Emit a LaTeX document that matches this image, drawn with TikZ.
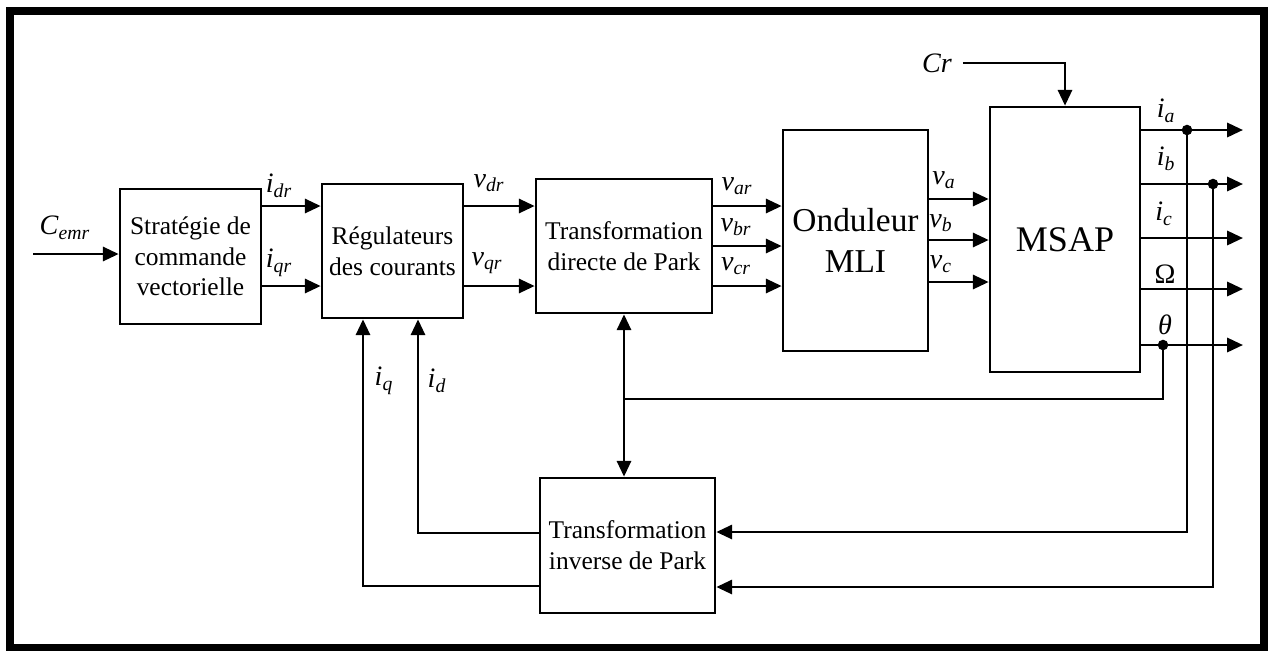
\documentclass[tikz,border=0pt]{standalone}
\usepackage{fontspec}
\setmainfont{Liberation Serif}
\usetikzlibrary{arrows.meta}

\newcommand{\sig}[2]{\textit{#1}\textsubscript{\textit{#2}}}

\begin{document}
\begin{tikzpicture}[x=0.02cm, y=-0.02cm,
    bloc/.style={draw, line width=1.5pt, inner sep=0pt, align=center, font=\fontsize{14.5}{17.5}\selectfont},
    lbl/.style={font=\fontsize{16}{16}\selectfont, inner sep=1pt},
    lien/.style={line width=1.6pt},
    fl/.style={lien, -{Triangle[length=9pt, width=8pt]}}]

            \useasboundingbox (0,0) rectangle (1273,650);
            \draw[line width=4.5pt] (10,11) rectangle (1264,648);

            % blocs
            \node[bloc, minimum width=2.82cm, minimum height=2.7cm] (strat) at (190.5,256.5) {Stratégie de\\commande\\vectorielle};
            \node[bloc, minimum width=2.82cm, minimum height=2.68cm] (regul) at (392.5,251) {Régulateurs\\des courants};
            \node[bloc, minimum width=3.52cm, minimum height=2.68cm] (park) at (624,246) {Transformation\\directe de Park};
            \node[bloc, minimum width=2.9cm, minimum height=4.42cm, font=\fontsize{19}{23}\selectfont] (ond) at (855.5,240.5) {Onduleur\\MLI};
            \node[bloc, minimum width=3cm, minimum height=5.3cm, font=\fontsize{20.5}{24}\selectfont] (msap) at (1065,239.5) {MSAP};
            \node[bloc, minimum width=3.5cm, minimum height=2.7cm] (inv) at (627.5,545.5) {Transformation\\inverse de Park};

            % entree
            \coordinate (cin) at (33,254);
            \draw[fl] (cin) -- (strat.west |- cin);
            \node[lbl] (cemr) at (65,228) {\sig{C}{emr}};

            \draw[fl] (strat.east |- 0,206) -- (regul.west |- 0,206);
            \node[lbl] (idr) at (279,186) {\sig{i}{dr}};
            \draw[fl] (strat.east |- 0,286) -- (regul.west |- 0,286);
            \node[lbl] (iqr) at (279,263) {\sig{i}{qr}};

            \draw[fl] (regul.east |- 0,206) -- (park.west |- 0,206);
            \node[lbl] (vdr) at (489,183) {\sig{v}{dr}};
            \draw[fl] (regul.east |- 0,286) -- (park.west |- 0,286);
            \node[lbl] (vqr) at (487,263) {\sig{v}{qr}};

            \draw[fl] (park.east |- 0,206) -- (ond.west |- 0,206);
            \node[lbl] (var) at (737,186) {\sig{v}{ar}};
            \draw[fl] (park.east |- 0,246) -- (ond.west |- 0,246);
            \node[lbl] (vbr) at (736,227) {\sig{v}{br}};
            \draw[fl] (park.east |- 0,286) -- (ond.west |- 0,286);
            \node[lbl] (vcr) at (736,266) {\sig{v}{cr}};

            \draw[fl] (ond.east |- 0,199) -- (msap.west |- 0,199);
            \node[lbl] (va) at (944,180) {\sig{v}{a}};
            \draw[fl] (ond.east |- 0,240) -- (msap.west |- 0,240);
            \node[lbl] (vb) at (941,223) {\sig{v}{b}};
            \draw[fl] (ond.east |- 0,282) -- (msap.west |- 0,282);
            \node[lbl] (vc) at (941,264) {\sig{v}{c}};

            % couple resistant
            \node[lbl] (cr) at (937,63) {\textit{Cr}};
            \draw[fl] ([xshift=5pt]cr.east) -| (msap.north);

            % sorties
            \coordinate (oa) at (1243,130);
            \coordinate (ob) at (1243,184);
            \coordinate (oc) at (1243,238);
            \coordinate (ow) at (1243,289);
            \coordinate (ot) at (1243,345);
            \draw[fl] (msap.east |- oa) -- (oa);
            \draw[fl] (msap.east |- ob) -- (ob);
            \draw[fl] (msap.east |- oc) -- (oc);
            \draw[fl] (msap.east |- ow) -- (ow);
            \draw[fl] (msap.east |- ot) -- (ot);
            \node[lbl] (ia) at (1166,111) {\sig{i}{a}};
            \node[lbl] (ib) at (1166,159) {\sig{i}{b}};
            \node[lbl] (ic) at (1164,214) {\sig{i}{c}};
            \node[lbl] (om) at (1165,274) {Ω};
            \node[lbl] (th) at (1165,325) {\textit{θ}};

            % retours
            \coordinate (ja) at (1187,130);
            \coordinate (jb) at (1213,184);
            \coordinate (jt) at (1163,345);
            \fill (ja) circle (3pt);
            \fill (jb) circle (3pt);
            \fill (jt) circle (3pt);
            \draw[fl] (ja) |- (inv.east |- 0,532);
            \draw[fl] (jb) |- (inv.east |- 0,587);
            \draw[lien] (jt) |- (park.south |- 0,399);
            \draw[lien, {Triangle[length=9pt, width=8pt]}-{Triangle[length=9pt, width=8pt]}] (park.south) -- (park.south |- inv.north);

            \draw[fl] (inv.west |- 0,586) -| (regul.south -| 363,0);
            \node[lbl] (iq) at (384,381) {\sig{i}{q}};
            \draw[fl] (inv.west |- 0,533) -| (regul.south -| 418,0);
            \node[lbl] (id) at (437,381) {\sig{i}{d}};
          \end{tikzpicture}
\end{document}
